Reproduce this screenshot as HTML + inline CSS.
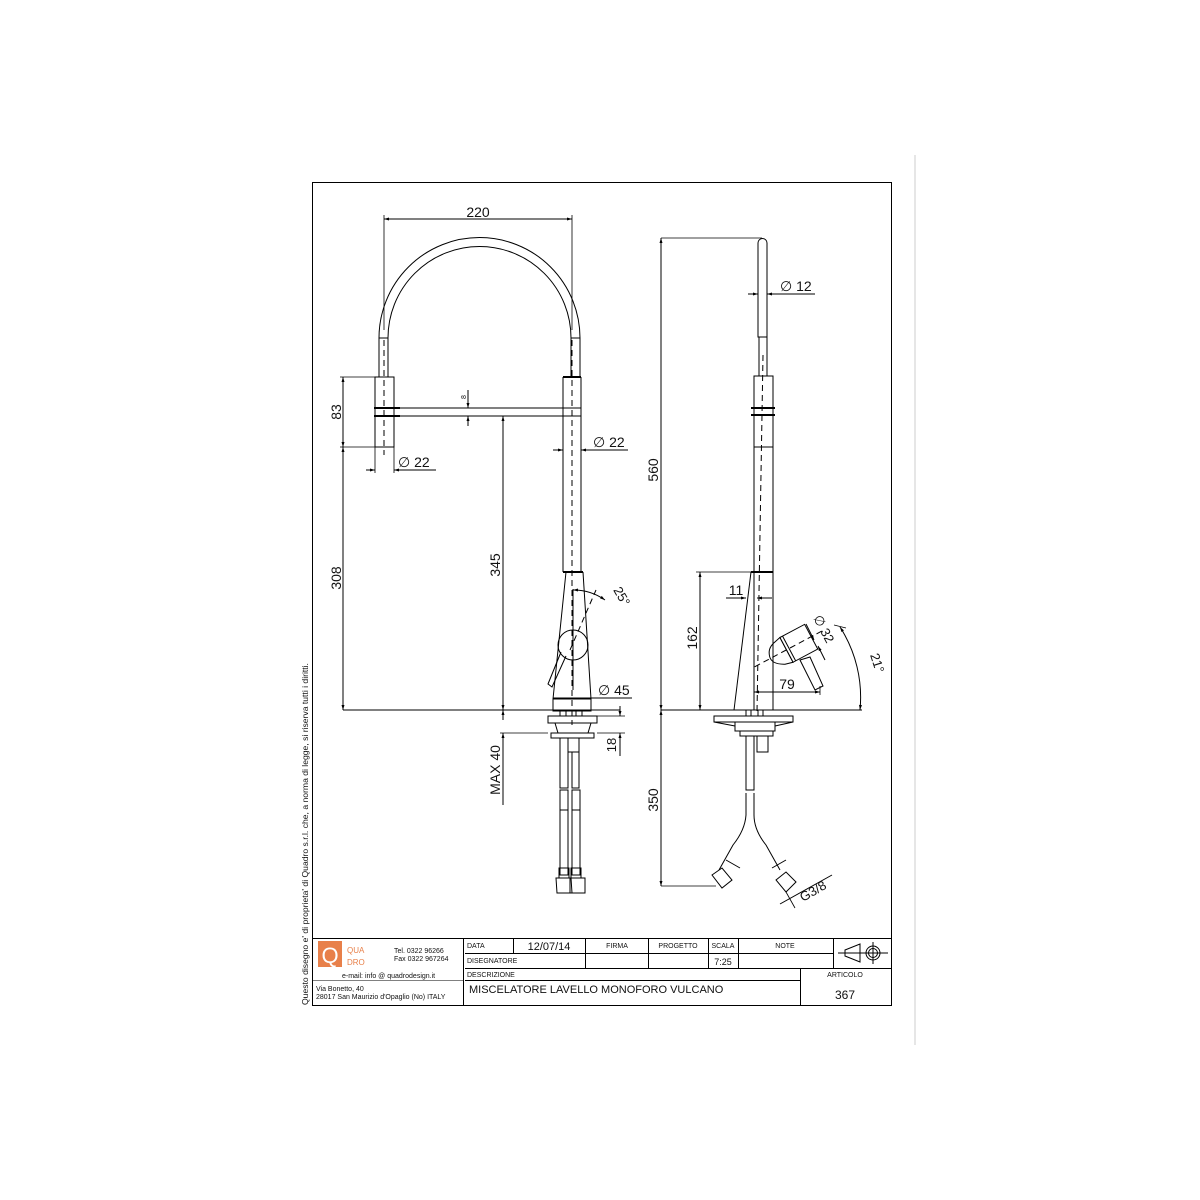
<!DOCTYPE html>
<html><head><meta charset="utf-8"><style>
html,body{margin:0;padding:0;background:#fff;width:1200px;height:1200px;overflow:hidden}
svg{display:block}
text{font-family:"Liberation Sans",Arial,sans-serif;fill:#111}
</style></head><body>
<svg width="1200" height="1200" viewBox="0 0 1200 1200" xmlns="http://www.w3.org/2000/svg">
<defs>
<marker id="a" viewBox="0 0 10 10" refX="10" refY="5" markerWidth="7" markerHeight="5" orient="auto-start-reverse"><path d="M0,2 L10,5 L0,8 z" fill="#000"/></marker>
</defs>
<line x1="915" y1="155" x2="915" y2="1045" stroke="#ccc" stroke-width="1"/>
<rect x="312.5" y="182.5" width="579" height="823" fill="none" stroke="#000" stroke-width="1"/>
<text transform="translate(308,1005) rotate(-90)" font-size="8.6">Questo disegno e' di proprieta' di Quadro s.r.l. che, a norma di legge, si riserva tutti i diritti.</text>

<g fill="none" stroke="#000" stroke-width="1">
<!-- FRONT VIEW -->
<path d="M379,338 A100,100 0 0 1 580,338"/>
<path d="M388,338 A91,91 0 0 1 571,338"/>
<line x1="379" y1="338" x2="379" y2="377"/><line x1="388" y1="338" x2="388" y2="377"/>
<line x1="571" y1="338" x2="571" y2="377"/><line x1="580" y1="338" x2="580" y2="377"/>
<line x1="379" y1="338" x2="388" y2="338"/><line x1="571" y1="338" x2="580" y2="338"/>
<rect x="375" y="377" width="19" height="70"/>
<line x1="374" y1="408" x2="400" y2="408" stroke-width="2"/><line x1="374" y1="416" x2="400" y2="416" stroke-width="2"/>
<line x1="394" y1="408" x2="581" y2="408"/><line x1="394" y1="416" x2="581" y2="416"/>
<line x1="563" y1="377" x2="581" y2="377" stroke-width="2"/>
<line x1="563" y1="377" x2="563" y2="572"/><line x1="581" y1="377" x2="581" y2="572"/>
<line x1="384" y1="340" x2="384" y2="455" stroke-dasharray="6,4"/>
<line x1="572" y1="340" x2="572" y2="725" stroke-dasharray="6,4"/>
<line x1="563" y1="572" x2="583" y2="572" stroke-width="2"/>
<path d="M566,572 L553,699 M583,572 L591,699"/>
<path d="M553,699 L591,699 L591,711 L553,711 Z"/>
<circle cx="573" cy="645" r="15"/>
<path d="M561,652 L548,684 L552,687 L566,656"/>
<path d="M573,590 A55,55 0 0 1 605,600" marker-start="url(#a)" marker-end="url(#a)"/>
<line x1="573" y1="589" x2="573" y2="690"/>
<line x1="570" y1="650" x2="596" y2="590" stroke-dasharray="6,4"/>
<!-- base front -->
<rect x="548" y="716" width="49" height="7"/>
<path d="M555,723 L558,733 L588,733 L591,723"/>
<rect x="551" y="733" width="43" height="5"/>
<rect x="568" y="738" width="11" height="14"/>
<rect x="560" y="711" width="6" height="5"/><rect x="576" y="711" width="6" height="5"/>
<rect x="560" y="738" width="8" height="50"/><rect x="572" y="752" width="7" height="36"/>
<rect x="560" y="790" width="8" height="85"/><rect x="572" y="790" width="8" height="85"/>
<line x1="560" y1="810" x2="568" y2="810"/><line x1="572" y1="810" x2="580" y2="810"/>
<rect x="559" y="868" width="10" height="10"/><rect x="571" y="868" width="10" height="10"/>
<path d="M556,878 L571,878 L572,893 L557,893 Z"/><path d="M570,878 L585,878 L585,893 L570,893 Z"/>
<!-- front dims -->
<line x1="384" y1="219" x2="572" y2="219" marker-start="url(#a)" marker-end="url(#a)"/>
<line x1="384" y1="215" x2="384" y2="330" stroke-width="0.8"/><line x1="572" y1="215" x2="572" y2="330" stroke-width="0.8"/>
<line x1="340" y1="377" x2="375" y2="377" stroke-width="0.8"/><line x1="340" y1="447" x2="375" y2="447" stroke-width="0.8"/>
<line x1="343" y1="377" x2="343" y2="447" marker-start="url(#a)" marker-end="url(#a)"/>
<line x1="343" y1="447" x2="343" y2="710" marker-start="url(#a)" marker-end="url(#a)"/>
<line x1="375" y1="447" x2="375" y2="473" stroke-width="0.8"/><line x1="394" y1="447" x2="394" y2="473" stroke-width="0.8"/>
<line x1="366" y1="470" x2="375" y2="470" marker-end="url(#a)"/><line x1="403" y1="470" x2="394" y2="470" marker-end="url(#a)"/><line x1="394" y1="470" x2="436" y2="470"/>
<line x1="468" y1="390" x2="468" y2="408" marker-end="url(#a)"/><line x1="468" y1="426" x2="468" y2="416" marker-end="url(#a)"/>
<line x1="503" y1="416" x2="503" y2="710" marker-start="url(#a)" marker-end="url(#a)"/>
<line x1="553" y1="450" x2="563" y2="450" marker-end="url(#a)"/><line x1="591" y1="450" x2="581" y2="450" marker-end="url(#a)"/><line x1="581" y1="450" x2="628" y2="450"/>
<line x1="553" y1="698" x2="632" y2="698"/>
<line x1="343" y1="710" x2="620" y2="710"/>
<line x1="500" y1="733" x2="548" y2="733" stroke-width="0.8"/>
<line x1="503" y1="720" x2="503" y2="710" marker-end="url(#a)"/><line x1="503" y1="805" x2="503" y2="733" marker-end="url(#a)"/>
<line x1="597" y1="716" x2="625" y2="716" stroke-width="0.8"/><line x1="597" y1="733" x2="625" y2="733" stroke-width="0.8"/>
<line x1="620" y1="706" x2="620" y2="716" marker-end="url(#a)"/><line x1="620" y1="756" x2="620" y2="733" marker-end="url(#a)"/>

<!-- SIDE VIEW -->
<path d="M758,337 L758,243 A4.5,4.5 0 0 1 767,243 L767,337 Z"/>
<line x1="759" y1="337" x2="759" y2="376"/><line x1="767" y1="337" x2="767" y2="376"/>
<rect x="754" y="376" width="19" height="71"/>
<line x1="751" y1="408" x2="775" y2="408" stroke-width="2"/><line x1="751" y1="415" x2="775" y2="415" stroke-width="2"/>
<line x1="754" y1="447" x2="754" y2="572"/><line x1="773" y1="447" x2="773" y2="710"/>
<line x1="763" y1="355" x2="757" y2="712" stroke-dasharray="6,4"/>
<line x1="751" y1="572" x2="773" y2="572" stroke-width="2"/>
<line x1="751" y1="572" x2="734" y2="710"/>
<line x1="754" y1="572" x2="754" y2="710"/>
<g transform="translate(790,648) rotate(-28)">
<path d="M-12,-12 L-4,-14 L-4,14 L-12,12 Q-24,6 -22,-2 Q-20,-10 -12,-12 Z"/>
<rect x="-4" y="-14" width="28" height="28"/>
<line x1="-1" y1="-14" x2="-1" y2="14"/>
<line x1="-40" y1="0" x2="40" y2="0" stroke-dasharray="6,4"/>
</g>
<path d="M800,660 L810,657 L823,686 L815,690 Z"/>
<line x1="661" y1="238" x2="762" y2="238" stroke-width="0.8"/>
<line x1="661" y1="238" x2="661" y2="710" marker-start="url(#a)" marker-end="url(#a)"/>
<line x1="661" y1="710" x2="661" y2="886" marker-start="url(#a)" marker-end="url(#a)"/>
<line x1="748" y1="294" x2="758" y2="294" marker-end="url(#a)"/><line x1="777" y1="294" x2="767" y2="294" marker-end="url(#a)"/><line x1="767" y1="294" x2="815" y2="294"/>
<line x1="696" y1="572" x2="751" y2="572" stroke-width="0.8"/>
<line x1="700" y1="572" x2="700" y2="710" marker-start="url(#a)" marker-end="url(#a)"/>
<line x1="726" y1="598" x2="746" y2="598" marker-end="url(#a)"/><line x1="772" y1="598" x2="757" y2="598" marker-end="url(#a)"/>
<line x1="754" y1="692" x2="820" y2="692" marker-start="url(#a)" marker-end="url(#a)"/>
<line x1="820" y1="686" x2="820" y2="695" stroke-width="0.8"/>
<line x1="806" y1="624" x2="814" y2="640" marker-end="url(#a)"/><line x1="825" y1="660" x2="818" y2="646" marker-end="url(#a)"/>
<path d="M840,627 A130,130 0 0 1 860,710" marker-start="url(#a)" marker-end="url(#a)"/>
<line x1="834" y1="625" x2="846" y2="628" stroke-width="0.8"/>
<line x1="661" y1="710" x2="862" y2="710"/>
<!-- side base -->
<rect x="714" y="716" width="79" height="6"/>
<path d="M714,722 L735,726 M793,722 L775,726"/>
<path d="M735,722 L735,731 L775,731 L775,722"/>
<rect x="740" y="731" width="33" height="5"/>
<rect x="757" y="736" width="11" height="16"/>
<rect x="746" y="710" width="5" height="6"/><rect x="758" y="710" width="5" height="6"/>
<path d="M746,736 L746,790 L754,790 L754,736"/>
<path d="M746,793 L746,815 Q745,830 733,845 L719,870 M754,793 L754,815 Q754,830 766,845 L780,870"/>
<path d="M726,860 L740,868 M772,868 L786,860"/>
<path d="M712,875 L722,868 L732,880 L722,888 Z"/><path d="M776,880 L786,872 L796,882 L786,892 Z"/>
<line x1="661" y1="886" x2="716" y2="886" stroke-width="0.8"/>
<line x1="780" y1="904" x2="832" y2="875"/>
<line x1="786" y1="892" x2="795" y2="908" stroke-width="0.8"/>

<!-- TITLE BLOCK -->
<line x1="312" y1="938.5" x2="891" y2="938.5"/>
<line x1="463.5" y1="938" x2="463.5" y2="1005"/>
<line x1="465" y1="953.5" x2="833" y2="953.5"/>
<line x1="465" y1="968.5" x2="891" y2="968.5"/>
<line x1="465" y1="980.5" x2="800" y2="980.5"/>
<line x1="800.5" y1="968" x2="800.5" y2="1005"/>
<line x1="513.5" y1="938" x2="513.5" y2="953"/>
<line x1="585.5" y1="938" x2="585.5" y2="968"/>
<line x1="648.5" y1="938" x2="648.5" y2="968"/>
<line x1="708.5" y1="938" x2="708.5" y2="968"/>
<line x1="738.5" y1="938" x2="738.5" y2="968"/>
<line x1="833.5" y1="938" x2="833.5" y2="968"/>
<line x1="312" y1="980.5" x2="463" y2="980.5" stroke-width="0.5"/>
<path d="M845,950 L860,944 L860,962 L845,956 Z M838,953 L888,953 M873,942 L873,964"/>
<circle cx="873" cy="953" r="7"/><circle cx="873" cy="953" r="4.5"/>
</g>
<rect x="318" y="941" width="24" height="26" fill="#e8804a"/>
<text x="330" y="963" font-size="22" text-anchor="middle" style="fill:#fff">Q</text>
<text x="347" y="953" font-size="8" style="fill:#e8804a">QUA</text>
<text x="347" y="965" font-size="8" style="fill:#e8804a">DRO</text>
<text x="394" y="953" font-size="7">Tel. 0322 96266</text>
<text x="394" y="961" font-size="7">Fax 0322 967264</text>
<text x="342" y="978" font-size="7">e-mail:  info @ quadrodesign.it</text>
<text x="316" y="991" font-size="7">Via Bonetto, 40</text>
<text x="316" y="999" font-size="7">28017 San Maurizio d'Opaglio (No) ITALY</text>
<text x="467" y="948" font-size="7">DATA</text>
<text x="549" y="950" font-size="11" text-anchor="middle">12/07/14</text>
<text x="617" y="948" font-size="7" text-anchor="middle">FIRMA</text>
<text x="678" y="948" font-size="7" text-anchor="middle">PROGETTO</text>
<text x="723" y="948" font-size="7" text-anchor="middle">SCALA</text>
<text x="785" y="948" font-size="7" text-anchor="middle">NOTE</text>
<text x="467" y="963" font-size="7">DISEGNATORE</text>
<text x="723" y="965" font-size="9" text-anchor="middle">7:25</text>
<text x="467" y="977" font-size="7">DESCRIZIONE</text>
<text x="845" y="977" font-size="7" text-anchor="middle">ARTICOLO</text>
<text x="469" y="993" font-size="11">MISCELATORE LAVELLO MONOFORO VULCANO</text>
<text x="845" y="999" font-size="12" text-anchor="middle">367</text>

<!-- dim texts -->
<text x="478" y="217" font-size="14" text-anchor="middle">220</text>
<text transform="translate(341,412) rotate(-90)" font-size="14" text-anchor="middle">83</text>
<text transform="translate(341,578) rotate(-90)" font-size="14" text-anchor="middle">308</text>
<text transform="translate(500,565) rotate(-90)" font-size="14" text-anchor="middle">345</text>
<text transform="translate(500,770) rotate(-90)" font-size="14" text-anchor="middle">MAX 40</text>
<text transform="translate(616,745) rotate(-90)" font-size="13" text-anchor="middle">18</text>
<text transform="translate(466,397) rotate(-90)" font-size="7" text-anchor="middle">8</text>
<text x="398" y="467" font-size="14">∅ 22</text>
<text x="593" y="447" font-size="14">∅ 22</text>
<text x="598" y="695" font-size="14">∅ 45</text>
<text transform="translate(613,590) rotate(60)" font-size="13">25°</text>
<text x="780" y="291" font-size="14">∅ 12</text>
<text transform="translate(658,470) rotate(-90)" font-size="14" text-anchor="middle">560</text>
<text transform="translate(697,638) rotate(-90)" font-size="14" text-anchor="middle">162</text>
<text transform="translate(658,800) rotate(-90)" font-size="14" text-anchor="middle">350</text>
<text x="736" y="595" font-size="14" text-anchor="middle">11</text>
<text x="787" y="689" font-size="14" text-anchor="middle">79</text>
<text transform="translate(813,618) rotate(62)" font-size="13">∅ 32</text>
<text transform="translate(870,655) rotate(72)" font-size="13">21°</text>
<text transform="translate(803,902) rotate(-30)" font-size="13">G3/8</text>
</svg>
</body></html>
